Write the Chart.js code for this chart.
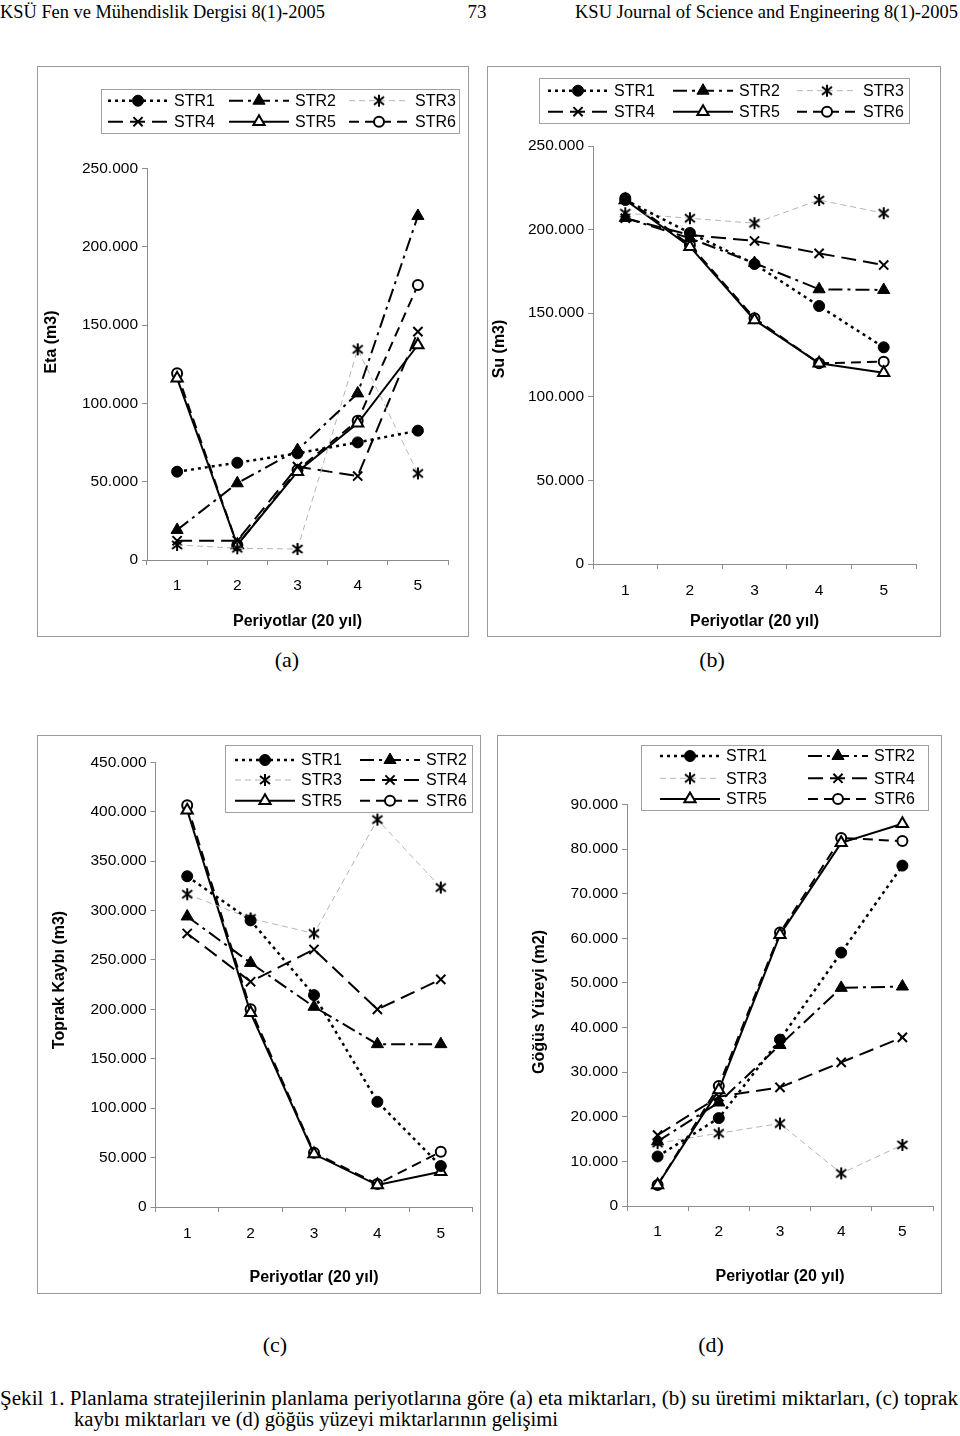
<!DOCTYPE html>
<html>
<head>
<meta charset="utf-8">
<script src="https://cdn.jsdelivr.net/npm/chart.js@4.4.1/dist/chart.umd.min.js"></script>
<style>
body { margin: 0; background: #fff; width: 960px; height: 1436px; position: relative; overflow: hidden; }
.box { position: absolute; border: 1px solid #9a9a9a; box-sizing: border-box; }
.box canvas { position: absolute; left: -1px; top: -1px; }
svg { position: absolute; left: 0; top: 0; }
</style>
</head>
<body>
<svg width="960" height="1436" font-family="Liberation Serif, 'Times New Roman', serif" fill="#000">
  <text x="0" y="18" font-size="19" textLength="325" lengthAdjust="spacingAndGlyphs">KSÜ Fen ve Mühendislik Dergisi 8(1)-2005</text>
  <text x="477" y="18" font-size="19" text-anchor="middle">73</text>
  <text x="575" y="18" font-size="19" textLength="383" lengthAdjust="spacingAndGlyphs">KSU Journal of Science and Engineering 8(1)-2005</text>
  <text x="287" y="667" font-size="22" text-anchor="middle">(a)</text>
  <text x="712" y="667" font-size="22" text-anchor="middle">(b)</text>
  <text x="275" y="1352" font-size="22" text-anchor="middle">(c)</text>
  <text x="711" y="1352" font-size="22" text-anchor="middle">(d)</text>
  <text x="0" y="1405" font-size="20" textLength="958" lengthAdjust="spacingAndGlyphs">Şekil 1. Planlama stratejilerinin planlama periyotlarına göre (a) eta miktarları, (b) su üretimi miktarları, (c) toprak</text>
  <text x="74" y="1426" font-size="20" textLength="484" lengthAdjust="spacingAndGlyphs">kaybı miktarları ve (d) göğüs yüzeyi miktarlarının gelişimi</text>
</svg>

<div class="box" style="left:37px;top:66px;width:432px;height:571px"><canvas id="etaChart" width="432" height="571"></canvas></div>
<div class="box" style="left:487px;top:66px;width:454px;height:571px"><canvas id="suChart" width="454" height="571"></canvas></div>
<div class="box" style="left:37px;top:735px;width:444px;height:559px"><canvas id="toprakChart" width="444" height="559"></canvas></div>
<div class="box" style="left:497px;top:735px;width:445px;height:559px"><canvas id="gogusChart" width="445" height="559"></canvas></div>

<script>
// kategoriler ve seri adları
const periods = ['1', '2', '3', '4', '5'];
const seriesNames = ['STR1', 'STR2', 'STR3', 'STR4', 'STR5', 'STR6'];

// (a) eta miktarları (m3)
const etaValues = [
    [56400, 62100, 68100, 75100, 82600],
    [19200, 49000, 70200, 106400, 219700],
    [9600, 7500, 7000, 134500, 55300],
    [12300, 12300, 59600, 53600, 145800],
    [116000, 9600, 56400, 87300, 137300],
    [119200, 9600, 57500, 89000, 175600]
];

// (b) su üretimi (m3)
const suValues = [
    [217700, 198000, 179400, 154300, 129600],
    [207000, 194800, 180000, 164300, 163900],
    [209800, 206800, 203800, 217700, 209800],
    [206800, 196800, 193200, 185800, 178800],
    [217700, 189800, 146000, 120000, 114400],
    [218700, 190800, 147000, 120000, 121000]
];

// (c) toprak kaybı (m3)
const toprakValues = [
    [334700, 290000, 214400, 106500, 41500],
    [294000, 247000, 202600, 164800, 164800],
    [316500, 292000, 276800, 392000, 323300],
    [276800, 228000, 260600, 200000, 230300],
    [401500, 196500, 53600, 22200, 35700],
    [406600, 200000, 55000, 23300, 56000]
];

// (d) göğüs yüzeyi (m2)
const gogusValues = [
    [11100, 19700, 37300, 56800, 76300],
    [14500, 23200, 36100, 48900, 49200],
    [14100, 16300, 18500, 7300, 13700],
    [15900, 24500, 26600, 32200, 37800],
    [4700, 26000, 60800, 81400, 85700],
    [4700, 26900, 61300, 82500, 81800]
];

const axisGrey = '#8c8c8c';
const sansFont = "'Liberation Sans', Arial, sans-serif";

// yıldız işareti (asterisk) için küçük canvas
const asterisk = document.createElement('canvas');
asterisk.width = 14;
asterisk.height = 14;
(function () {
    const c = asterisk.getContext('2d');
    c.strokeStyle = '#000';
    c.lineWidth = 2;
    c.beginPath();
    c.moveTo(7, 1); c.lineTo(7, 13);
    c.moveTo(2, 3); c.lineTo(12, 11);
    c.moveTo(12, 3); c.lineTo(2, 11);
    c.stroke();
})();

// seri çizgi / işaret stilleri
const seriesStyles = [
    { borderColor: '#000', borderWidth: 2.5, borderDash: [3, 4], pointStyle: 'circle', pointRadius: 5.5, pointBackgroundColor: '#000', pointBorderWidth: 1 },
    { borderColor: '#000', borderWidth: 2, borderDash: [14, 5, 3, 5], pointStyle: 'triangle', pointRadius: 7, pointBackgroundColor: '#000', pointBorderWidth: 1 },
    { borderColor: '#b5b5b5', borderWidth: 1, borderDash: [6, 4], pointStyle: asterisk, pointRadius: 6, pointBackgroundColor: '#000', pointBorderWidth: 0 },
    { borderColor: '#000', borderWidth: 2, borderDash: [15, 7], pointStyle: 'crossRot', pointRadius: 6.5, pointBackgroundColor: '#000', pointBorderWidth: 2 },
    { borderColor: '#000', borderWidth: 2, borderDash: [], pointStyle: 'triangle', pointRadius: 6.5, pointBackgroundColor: '#fff', pointBorderWidth: 2 },
    { borderColor: '#000', borderWidth: 2, borderDash: [10, 6], pointStyle: 'circle', pointRadius: 5, pointBackgroundColor: '#fff', pointBorderWidth: 2 }
];

function createDatasets(values) {
    const datasets = [];
    for (let i = 0; i < values.length; i++) {
        const s = seriesStyles[i];
        datasets.push({
            label: seriesNames[i],
            data: values[i],
            borderColor: s.borderColor,
            borderWidth: s.borderWidth,
            borderDash: s.borderDash,
            pointStyle: s.pointStyle,
            pointRadius: s.pointRadius,
            pointBackgroundColor: s.pointBackgroundColor,
            pointBorderColor: '#000',
            pointBorderWidth: s.pointBorderWidth,
            tension: 0,
            fill: false,
            clip: false
        });
    }
    return datasets;
}

// Excel tarzı kutulu lejant + dikey eksen başlığı
const boxLegend = {
    id: 'boxLegend',
    afterDraw(chart, args, opts) {
        const ctx = chart.ctx;
        ctx.save();

        // eksen başlığı (döndürülmüş)
        ctx.translate(opts.titleX, opts.titleY);
        ctx.rotate(-Math.PI / 2);
        ctx.fillStyle = '#000';
        ctx.font = 'bold 16px ' + sansFont;
        ctx.textAlign = 'center';
        ctx.textBaseline = 'middle';
        ctx.fillText(opts.title, 0, 0);
        ctx.setTransform(1, 0, 0, 1, 0, 0);
        ctx.textAlign = 'left';

        ctx.fillStyle = '#fff';
        ctx.fillRect(opts.x, opts.y, opts.w, opts.h);
        ctx.strokeStyle = '#a0a0a0';
        ctx.lineWidth = 1;
        ctx.strokeRect(opts.x + 0.5, opts.y + 0.5, opts.w, opts.h);
        chart.data.datasets.forEach((ds, i) => {
            const cx = opts.cols[i % opts.cols.length];
            const cy = opts.rows[Math.floor(i / opts.cols.length)];
            ctx.strokeStyle = ds.borderColor;
            ctx.lineWidth = ds.borderWidth;
            ctx.setLineDash(ds.borderDash);
            ctx.beginPath();
            ctx.moveTo(cx, cy);
            ctx.lineTo(cx + 60, cy);
            ctx.stroke();
            ctx.setLineDash([]);
            ctx.fillStyle = ds.pointBackgroundColor;
            ctx.strokeStyle = '#000';
            ctx.lineWidth = ds.pointBorderWidth;
            Chart.helpers.drawPoint(ctx, {
                pointStyle: ds.pointStyle,
                radius: ds.pointRadius,
                borderWidth: ds.pointBorderWidth,
                rotation: 0
            }, cx + 30, cy);
            ctx.fillStyle = '#000';
            ctx.font = '16px ' + sansFont;
            ctx.textBaseline = 'middle';
            ctx.fillText(ds.label, cx + 66, cy + 1);
        });
        ctx.restore();
    }
};

function formatTick(v) {
    return v === 0 ? '0' : (v / 1000).toFixed(3);
}

function makeChart(id, values, yMax, yStep, g, legend) {
    const ctx = document.getElementById(id).getContext('2d');
    return new Chart(ctx, {
        type: 'line',
        data: { labels: periods, datasets: createDatasets(values) },
        plugins: [boxLegend],
        options: {
            responsive: false,
            animation: false,
            events: [],
            layout: { padding: { left: 0, top: g.top, right: g.w - g.right, bottom: 0 } },
            plugins: {
                legend: { display: false },
                tooltip: { enabled: false },
                boxLegend: legend
            },
            scales: {
                x: {
                    offset: true,
                    grid: { offset: true, drawOnChartArea: false, tickLength: 5, color: axisGrey },
                    border: { display: true, color: axisGrey },
                    ticks: { color: '#000', font: { family: sansFont, size: 15.5 }, padding: g.xPad, maxRotation: 0 },
                    title: {
                        display: true, text: 'Periyotlar (20 yıl)', color: '#000',
                        font: { family: sansFont, size: 16, weight: 'bold' },
                        padding: { top: 0, bottom: g.h - 9.6 - g.xTitleY }
                    },
                    afterFit: s => { s.height = g.h - g.bottom; }
                },
                y: {
                    min: 0,
                    max: yMax,
                    grid: { drawOnChartArea: false, tickLength: 5, color: axisGrey },
                    border: { display: true, color: axisGrey },
                    ticks: { stepSize: yStep, callback: formatTick, color: '#000', font: { family: sansFont, size: 15.5 }, padding: 4 },
                    afterFit: s => { s.width = g.left; }
                }
            }
        }
    });
}

makeChart('etaChart', etaValues, 250000, 50000,
    { w: 432, h: 571, left: 110, right: 411, top: 102.5, bottom: 494, xPad: 11, xTitleY: 556 },
    { title: 'Eta (m3)', titleX: 15, titleY: 276,
      x: 64, y: 23, w: 358, h: 44, rows: [34.7, 55.7], cols: [71, 192, 312] });

makeChart('suChart', suValues, 250000, 50000,
    { w: 454, h: 571, left: 106, right: 429, top: 80, bottom: 498, xPad: 12, xTitleY: 556 },
    { title: 'Su (m3)', titleX: 13, titleY: 283,
      x: 52, y: 12, w: 370, h: 45, rows: [24.7, 45.7], cols: [61, 186, 310] });

makeChart('toprakChart', toprakValues, 450000, 50000,
    { w: 444, h: 559, left: 118.5, right: 443, top: 27.3, bottom: 472, xPad: 12, xTitleY: 543 },
    { title: 'Toprak Kaybı (m3)', titleX: 23, titleY: 245,
      x: 188, y: 10, w: 247, h: 67, rows: [25, 45, 65.7], cols: [198, 323] });

makeChart('gogusChart', gogusValues, 90000, 10000,
    { w: 445, h: 559, left: 130, right: 436, top: 69.5, bottom: 471, xPad: 11, xTitleY: 542 },
    { title: 'Göğüs Yüzeyi (m2)', titleX: 43, titleY: 267,
      x: 144, y: 10, w: 287, h: 65, rows: [21, 43.3, 64], cols: [163, 311] });
</script>
</body>
</html>
